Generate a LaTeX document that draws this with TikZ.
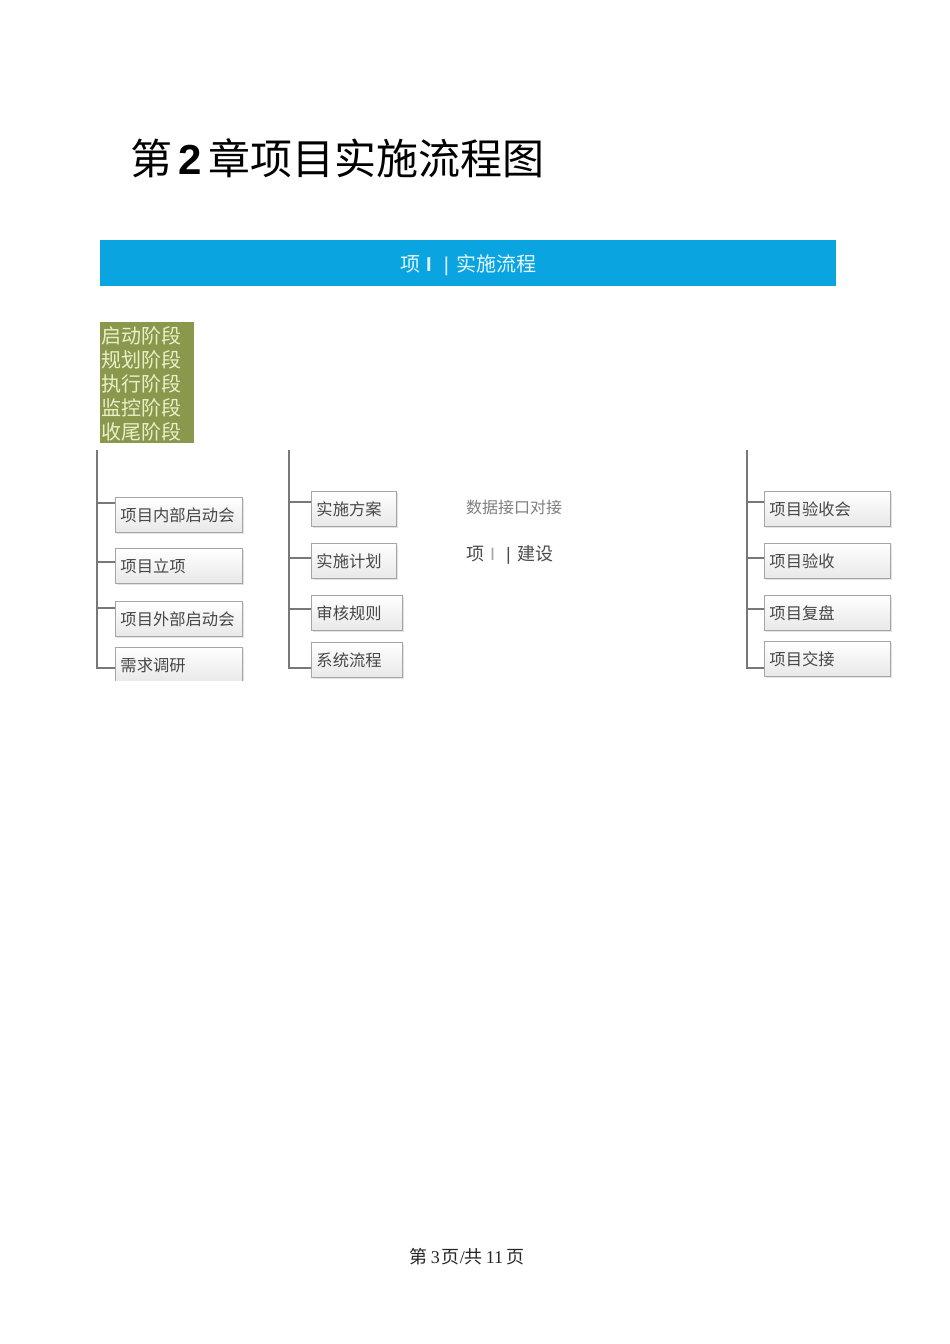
\documentclass[tikz,border=0pt]{standalone}
\usepackage{fontspec}
\setmainfont{Liberation Serif}
\newfontfamily\cjk{Noto Sans CJK SC}
\newfontfamily\lsans{Liberation Sans}
\usetikzlibrary{calc,shadows}
\definecolor{barblue}{RGB}{10,165,225}
\definecolor{olivebox}{RGB}{138,152,78}
\definecolor{olivetext}{RGB}{232,240,200}
\definecolor{linegray}{RGB}{120,120,120}
\definecolor{boxline}{RGB}{165,165,165}
\tikzset{
  conn/.style={draw=linegray, line width=1.6pt},
  tbox/.style={draw=boxline, line width=0.9pt, top color=white, bottom color=black!9,
    drop shadow={opacity=0.22, shadow xshift=1.2pt, shadow yshift=-1.2pt},
    anchor=north west, inner xsep=5pt, inner ysep=0pt, minimum height=35pt,
    align=left, text=black!72, font=\cjk\fontsize{16.3}{19}\selectfont},
  plain/.style={inner sep=0pt, anchor=west}
}
\begin{document}
\begin{tikzpicture}[x=1pt,y=-1pt]
\path[use as bounding box, fill=white] (0,0) rectangle (950,1344);

% title
\node[plain] (title) at (130,158) {\fontsize{42}{48}\selectfont{\cjk 第}\hspace{6pt}{\lsans\bfseries 2}\hspace{7pt}{\cjk 章项目实施流程图}};

% blue bar
\node[fill=barblue, anchor=north west, minimum width=736pt, minimum height=46pt, inner sep=0pt] (bar) at (100,240) {};
\node[plain, text={rgb,255:red,228;green,246;blue,253}] (bartext) at (400,265) {\fontsize{20}{24}\selectfont{\cjk 项}\hspace{6pt}{\lsans\bfseries I}\hspace{12pt}{\lsans |}\hspace{8pt}{\cjk 实施流程}};

% phases
\node[fill=olivebox, anchor=north west, minimum width=94pt, minimum height=121pt, inner sep=0pt] (phbox) at (100,322) {};
\node[plain, anchor=north west, align=left, text=olivetext, font=\cjk\fontsize{20}{24}\selectfont] (phases) at (101,326) {启动阶段\\规划阶段\\执行阶段\\监控阶段\\收尾阶段};

\begin{scope}
\clip (0,440) rectangle (950,680.5);
% column 1
\coordinate (t1) at (97,450);
\node[tbox, text width=117pt] (a1) at (115,497) {项目内部启动会};
\node[tbox, text width=117pt] (a2) at (115,548) {项目立项};
\node[tbox, text width=117pt] (a3) at (115,601) {项目外部启动会};
\node[tbox, text width=117pt] (a4) at (115,647) {需求调研};
\coordinate (a1p) at ($(a1.north west)+(0,6)$);
\coordinate (a2p) at ($(a2.north west)+(0,14)$);
\coordinate (a3p) at ($(a3.north west)+(0,7)$);
\coordinate (a4p) at ($(a4.north west)+(0,21)$);
\draw[conn] (t1) -- (a4p -| t1) -- (a4p);
\draw[conn] (a1p -| t1) -- (a1p);
\draw[conn] (a2p -| t1) -- (a2p);
\draw[conn] (a3p -| t1) -- (a3p);

% column 2
\coordinate (t2) at (289,450);
\node[tbox, text width=75pt] (b1) at (311,491) {实施方案};
\node[tbox, text width=75pt] (b2) at (311,543) {实施计划};
\node[tbox, text width=81pt] (b3) at (311,595) {审核规则};
\node[tbox, text width=81pt] (b4) at (311,642) {系统流程};
\coordinate (b1p) at ($(b1.north west)+(0,11)$);
\coordinate (b2p) at ($(b2.north west)+(0,15)$);
\coordinate (b3p) at ($(b3.north west)+(0,14)$);
\coordinate (b4p) at ($(b4.north west)+(0,26)$);
\draw[conn] (t2) -- (b4p -| t2) -- (b4p);
\draw[conn] (b1p -| t2) -- (b1p);
\draw[conn] (b2p -| t2) -- (b2p);
\draw[conn] (b3p -| t2) -- (b3p);

% column 4
\coordinate (t4) at (747,450);
\node[tbox, text width=116pt] (d1) at (764,491) {项目验收会};
\node[tbox, text width=116pt] (d2) at (764,543) {项目验收};
\node[tbox, text width=116pt] (d3) at (764,595) {项目复盘};
\node[tbox, text width=116pt] (d4) at (764,641) {项目交接};
\coordinate (d1p) at ($(d1.north west)+(0,11)$);
\coordinate (d2p) at ($(d2.north west)+(0,15)$);
\coordinate (d3p) at ($(d3.north west)+(0,14)$);
\coordinate (d4p) at ($(d4.north west)+(0,27)$);
\draw[conn] (t4) -- (d4p -| t4) -- (d4p);
\draw[conn] (d1p -| t4) -- (d1p);
\draw[conn] (d2p -| t4) -- (d2p);
\draw[conn] (d3p -| t4) -- (d3p);
\end{scope}

% column 3
\node[plain, text=black!50, font=\cjk\fontsize{16}{19}\selectfont] (c1) at (466,507) {数据接口对接};
\node[plain, text=black!70] (c2) at (466,555) {\fontsize{18}{22}\selectfont{\cjk 项}\hspace{6pt}{\lsans\color{black!35}I}\hspace{11pt}{\lsans |}\hspace{7pt}{\cjk 建设}};

% footer
\node[inner sep=0pt, text=black!85] (footer) at (467,1257) {\fontsize{18}{21}\selectfont{\cjk 第}\hspace{3pt}3\hspace{2pt}{\cjk 页}/{\cjk 共}\hspace{3pt}11\hspace{3pt}{\cjk 页}};
\end{tikzpicture}
\end{document}
